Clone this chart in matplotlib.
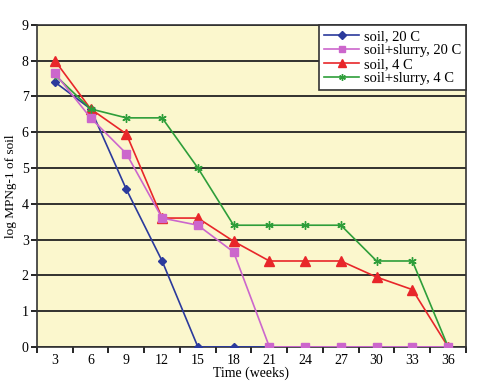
import numpy as np
import matplotlib.pyplot as plt

weeks = ['3', '6', '9', '12', '15', '18', '21', '24', '27', '30', '33', '36']
soil_20 = [7.4, 6.65, 4.4, 2.4, 0, 0, 0, 0, 0, 0, 0, 0]
slurry_20 = [7.65, 6.4, 5.4, 3.6, 3.4, 2.65, 0, 0, 0, 0, 0, 0]
soil_4 = [8.0, 6.65, 5.95, 3.6, 3.6, 2.95, 2.4, 2.4, 2.4, 1.95, 1.6, 0]
slurry_4 = [7.6, 6.65, 6.4, 6.4, 5.0, 3.4, 3.4, 3.4, 3.4, 2.4, 2.4, 0]

plt.rcParams['font.family'] = ['Liberation Serif', 'DejaVu Serif']

fig = plt.figure(figsize=(5, 3.88), dpi=100)
ax = fig.add_axes([0.074, 0.106, 0.858, 0.830])
ax.set_facecolor('#fbf7cd')

x = np.arange(len(weeks))
ax.plot(x, soil_20, color='#2b3a9c', marker='D', markersize=4.5, lw=1.2, label='soil, 20 C', zorder=3)
ax.plot(x, slurry_20, color='#cc66cc', marker='s', markersize=6, lw=1.2, label='soil+slurry, 20 C', zorder=4)
ax.plot(x, soil_4, color='#e8262a', marker='^', markersize=7, lw=1.2, label='soil, 4 C', zorder=3)
ax.plot(x, slurry_4, color='#2e9e3a', marker=(6, 2, 0), markersize=6, lw=1.2, label='soil+slurry, 4 C', zorder=3)

ax.set_xlim(-0.5, len(weeks) - 0.5)
ax.set_ylim(0, 9)
ax.set_yticks(range(10))
ax.set_xticks(x)
ax.set_xticklabels(weeks)
ax.set_xticks(np.arange(-0.5, len(weeks), 1), minor=True)
ax.tick_params(axis='x', which='major', length=0, labelsize=10, pad=5)
ax.tick_params(axis='x', which='minor', length=4, width=1.2, direction='out')
ax.tick_params(axis='y', length=4, width=1.2, direction='out', labelsize=10, pad=2)
ax.yaxis.grid(True, color='#222222', lw=1.3)
ax.set_axisbelow(True)
for s in ax.spines.values():
    s.set_color('#333333')
    s.set_linewidth(1.2)

ax.set_xlabel('Time (weeks)', fontsize=10, labelpad=0)
ax.set_ylabel('log MPNg-1 of soil', fontsize=9.5, labelpad=3)

leg = ax.legend(loc='upper right', bbox_to_anchor=(1.0, 1.0), fontsize=10.5, frameon=True,
                fancybox=False, borderpad=0.35, labelspacing=0.05, handlelength=2.4,
                handletextpad=0.3, markerscale=0.8, borderaxespad=0)
leg.get_frame().set_edgecolor('#333333')
leg.get_frame().set_linewidth(1.2)
leg.get_frame().set_alpha(1)

fig.savefig('out.png', dpi=100)
